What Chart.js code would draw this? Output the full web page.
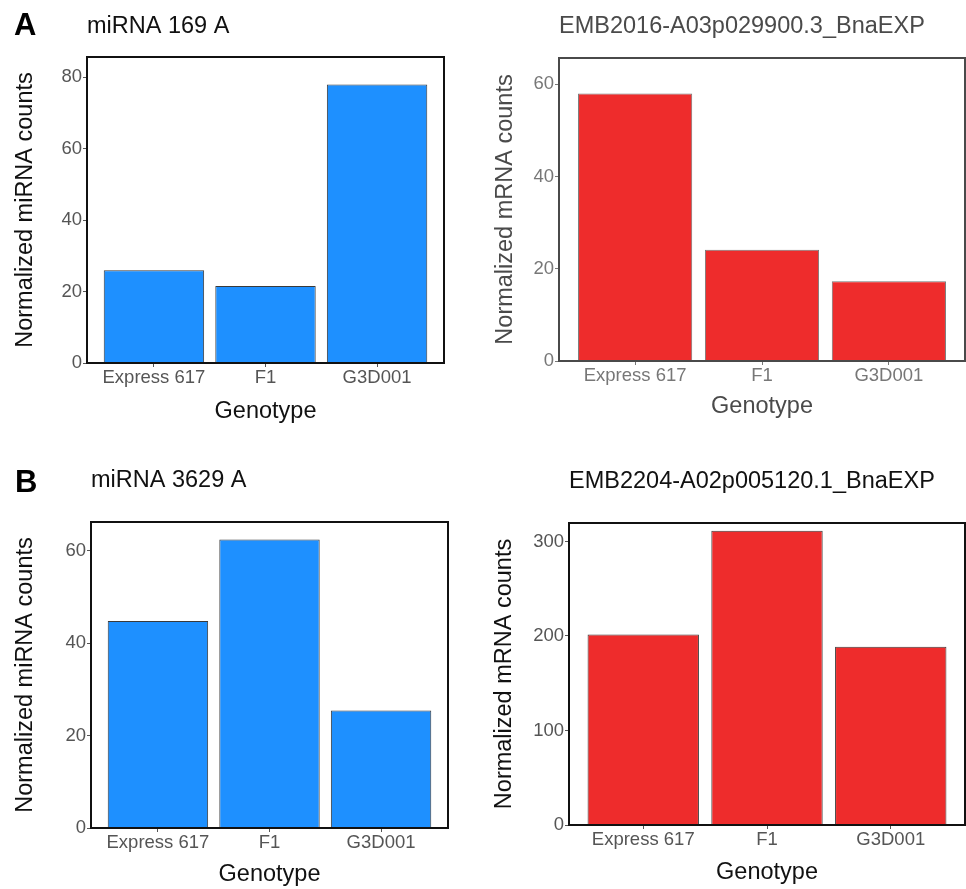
<!DOCTYPE html>
<html>
<head>
<meta charset="utf-8">
<title>miRNA and target expression by genotype</title>
<script src="https://cdn.jsdelivr.net/npm/chart.js@4.4.1/dist/chart.umd.min.js"></script>
<style>
  body { margin: 0; background: #fff; }
  #page { position: relative; width: 966px; height: 889px; overflow: hidden; background: #fff; }
  canvas { position: absolute; }
</style>
</head>
<body>
<div id="page">
  <canvas id="mir169-chart"></canvas>
  <canvas id="emb2016-chart"></canvas>
  <canvas id="mir3629-chart"></canvas>
  <canvas id="emb2204-chart"></canvas>
</div>
<script>
// Data
const genotypes = ['Express 617', 'F1', 'G3D001'];

const mir169Counts = [26, 21.6, 78];
const mir169Ticks = [0, 20, 40, 60, 80];

const emb2016Counts = [58, 24.1, 17.3];
const emb2016Ticks = [0, 20, 40, 60];

const mir3629Counts = [44.8, 62.4, 25.4];
const mir3629Ticks = [0, 20, 40, 60];

const emb2204Counts = [201.5, 311.3, 188.5];
const emb2204Ticks = [0, 100, 200, 300];

const FONT = "'Liberation Sans', Arial, Helvetica, sans-serif";

// Draws panel letter, panel title and the box around the plot area
const panelText = {
  id: 'panelText',
  afterDraw(chart, args, opts) {
    const { ctx, chartArea } = chart;
    ctx.save();
    ctx.strokeStyle = opts.boxColor;
    ctx.lineWidth = 2;
    ctx.strokeRect(chartArea.left, chartArea.top, chartArea.right - chartArea.left, chartArea.bottom - chartArea.top);

    ctx.textBaseline = 'alphabetic';
    ctx.textAlign = 'left';
    ctx.fillStyle = opts.titleColor;
    ctx.font = '23.5px ' + FONT;
    ctx.fillText(opts.title, chartArea.left, opts.titleY);

    if (opts.letter) {
      ctx.fillStyle = '#000';
      ctx.font = 'bold 31px ' + FONT;
      ctx.fillText(opts.letter, opts.letterX, opts.letterY);
    }
    ctx.restore();
  }
};

// Build one panel
function makePanel(cfg) {
  const canvas = document.getElementById(cfg.id);
  const box = cfg.box;
  const area = cfg.area;
  canvas.width = box.w;
  canvas.height = box.h;
  canvas.style.left = box.x + 'px';
  canvas.style.top = box.y + 'px';

  return new Chart(canvas, {
    type: 'bar',
    data: {
      datasets: [
        {
          data: cfg.values.map((v, i) => ({ x: i + 1, y: v })),
          backgroundColor: cfg.fill,
          borderColor: cfg.edge,
          borderWidth: 1,
          categoryPercentage: 1,
          barPercentage: 0.9,
        },
      ],
    },
    options: {
      responsive: false,
      animation: false,
      devicePixelRatio: 1,
      layout: {
        padding: {
          left: 0,
          top: area.top - box.y,
          right: box.x + box.w - area.right,
          bottom: 0,
        },
      },
      plugins: {
        legend: { display: false },
        tooltip: { enabled: false },
        panelText: {
          title: cfg.title,
          titleY: cfg.titleY - box.y,
          titleColor: cfg.titleColor,
          boxColor: cfg.boxColor,
          letter: cfg.letter,
          letterX: cfg.letterX - box.x,
          letterY: cfg.letterY - box.y,
        },
      },
      scales: {
        x: {
          type: 'linear',
          min: 0.4,
          max: 3.6,
          offset: false,
          afterBuildTicks: axis => {
            axis.ticks = genotypes.map((g, i) => ({ value: i + 1 }));
          },
          afterFit: axis => {
            axis.height = box.y + box.h - area.bottom;
          },
          ticks: {
            autoSkip: false,
            maxRotation: 0,
            padding: 0,
            color: cfg.tickColor,
            font: { family: FONT, size: 18.5 },
            callback: v => genotypes[v - 1],
          },
          grid: { offset: false, drawOnChartArea: false, tickLength: 4, color: cfg.tickColor },
          border: { display: false },
          title: {
            display: true,
            text: 'Genotype',
            color: cfg.axisColor,
            font: { family: FONT, size: 23.5 },
            padding: { top: 0, bottom: cfg.xTitlePad },
          },
        },
        y: {
          min: 0,
          max: cfg.yMax,
          afterBuildTicks: axis => {
            axis.ticks = cfg.ticks.map(v => ({ value: v }));
          },
          afterFit: axis => {
            axis.width = area.left - box.x;
          },
          ticks: {
            padding: 1,
            color: cfg.tickColor,
            font: { family: FONT, size: 18.5 },
          },
          grid: { drawOnChartArea: false, tickLength: 4, color: cfg.tickColor },
          border: { display: false },
          title: {
            display: true,
            text: cfg.yTitle,
            color: cfg.axisColor,
            font: { family: FONT, size: 23.5 },
            padding: { top: cfg.yTitlePad, bottom: 0 },
          },
        },
      },
    },
    plugins: [panelText],
  });
}

// Panel A, miRNA
makePanel({
  id: 'mir169-chart',
  box: { x: 0, y: 0, w: 483, h: 440 },
  area: { left: 87, top: 57, right: 444, bottom: 363 },
  values: mir169Counts,
  ticks: mir169Ticks,
  yMax: 85.7,
  fill: '#1E90FF',
  edge: '#3a3a3a',
  title: 'miRNA 169 A',
  titleY: 33,
  letter: 'A',
  letterX: 14,
  letterY: 35,
  yTitle: 'Normalized miRNA counts',
  yTitlePad: 11,
  xTitlePad: 14,
  titleColor: '#111',
  axisColor: '#111',
  tickColor: '#555',
  boxColor: '#111',
});

// Panel A, target mRNA
makePanel({
  id: 'emb2016-chart',
  box: { x: 483, y: 0, w: 483, h: 440 },
  area: { left: 559, top: 58, right: 965, bottom: 361 },
  values: emb2016Counts,
  ticks: emb2016Ticks,
  yMax: 65.7,
  fill: '#EE2C2C',
  edge: '#777',
  title: 'EMB2016-A03p029900.3_BnaEXP',
  titleY: 33,
  yTitle: 'Normalized mRNA counts',
  yTitlePad: 8.5,
  xTitlePad: 19,
  titleColor: '#4a4a4a',
  axisColor: '#4a4a4a',
  tickColor: '#777',
  boxColor: '#4a4a4a',
});

// Panel B, miRNA
makePanel({
  id: 'mir3629-chart',
  box: { x: 0, y: 440, w: 483, h: 449 },
  area: { left: 91, top: 522, right: 448, bottom: 828 },
  values: mir3629Counts,
  ticks: mir3629Ticks,
  yMax: 66.2,
  fill: '#1E90FF',
  edge: '#3a3a3a',
  title: 'miRNA 3629 A',
  titleY: 487,
  letter: 'B',
  letterX: 15,
  letterY: 492,
  yTitle: 'Normalized miRNA counts',
  yTitlePad: 11,
  xTitlePad: 0,
  titleColor: '#111',
  axisColor: '#111',
  tickColor: '#555',
  boxColor: '#111',
});

// Panel B, target mRNA
makePanel({
  id: 'emb2204-chart',
  box: { x: 483, y: 440, w: 483, h: 449 },
  area: { left: 569, top: 523, right: 965, bottom: 825 },
  values: emb2204Counts,
  ticks: emb2204Ticks,
  yMax: 319.5,
  fill: '#EE2C2C',
  edge: '#3a3a3a',
  title: 'EMB2204-A02p005120.1_BnaEXP',
  titleY: 488,
  yTitle: 'Normalized mRNA counts',
  yTitlePad: 7,
  xTitlePad: 2,
  titleColor: '#111',
  axisColor: '#111',
  tickColor: '#555',
  boxColor: '#111',
});
</script>
</body>
</html>
